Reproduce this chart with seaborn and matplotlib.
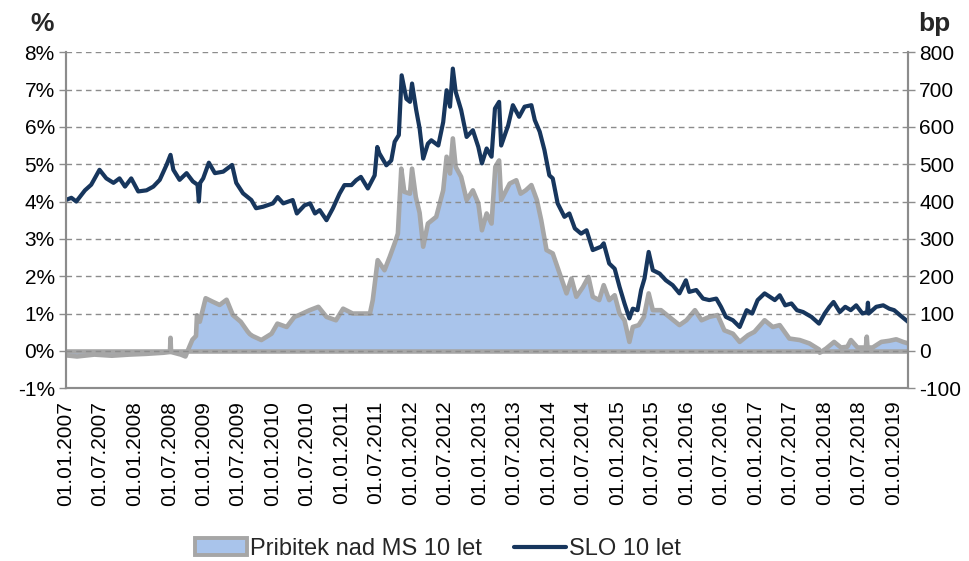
import pandas as pd
import matplotlib
matplotlib.use("Agg")
import matplotlib.pyplot as plt
import matplotlib.dates as mdates
from matplotlib.patches import Patch
from matplotlib.lines import Line2D
import seaborn as sns

# SLO 10-year yield (%)
yield_dates = [
    "2007-01-01", "2007-01-30", "2007-02-25", "2007-04-12", "2007-05-15", "2007-06-28",
    "2007-08-03", "2007-09-10", "2007-10-12", "2007-11-10", "2007-12-13", "2008-01-19",
    "2008-03-03", "2008-04-08", "2008-05-12", "2008-06-17", "2008-07-08", "2008-07-23",
    "2008-08-25", "2008-10-01", "2008-11-03", "2008-11-28", "2008-12-05", "2008-12-12",
    "2008-12-28", "2009-01-27", "2009-02-28", "2009-04-13", "2009-05-30", "2009-06-21",
    "2009-07-27", "2009-09-09", "2009-10-04", "2009-11-10", "2010-01-01", "2010-01-26",
    "2010-02-25", "2010-04-16", "2010-05-08", "2010-06-18", "2010-07-17", "2010-08-12",
    "2010-09-06", "2010-10-12", "2010-11-14", "2010-12-20", "2011-01-15", "2011-02-21",
    "2011-03-18", "2011-04-12", "2011-05-19", "2011-06-24", "2011-07-08", "2011-07-19",
    "2011-08-25", "2011-09-20", "2011-10-08", "2011-10-30", "2011-11-14", "2011-12-09",
    "2011-12-28", "2012-01-08", "2012-01-30", "2012-02-17", "2012-03-07", "2012-04-01",
    "2012-04-19", "2012-05-26", "2012-06-21", "2012-07-09", "2012-07-27", "2012-08-11",
    "2012-08-26", "2012-09-24", "2012-10-23", "2012-11-25", "2012-12-24", "2013-01-12",
    "2013-02-06", "2013-03-04", "2013-03-22", "2013-04-13", "2013-04-24", "2013-05-31",
    "2013-06-25", "2013-07-28", "2013-08-26", "2013-10-01", "2013-10-19", "2013-11-14",
    "2013-12-09", "2014-01-04", "2014-01-22", "2014-02-17", "2014-03-25", "2014-04-20",
    "2014-05-19", "2014-06-21", "2014-07-20", "2014-08-22", "2014-10-05", "2014-10-19",
    "2014-11-17", "2014-12-16", "2015-01-11", "2015-02-06", "2015-03-04", "2015-03-22",
    "2015-04-16", "2015-05-05", "2015-05-23", "2015-06-14", "2015-07-06", "2015-08-11",
    "2015-09-13", "2015-10-19", "2015-11-24", "2015-12-28", "2016-01-15", "2016-02-21",
    "2016-03-28", "2016-04-30", "2016-06-06", "2016-07-01", "2016-07-27", "2016-09-02",
    "2016-10-08", "2016-11-14", "2016-12-13", "2017-01-11", "2017-02-17", "2017-04-12",
    "2017-05-08", "2017-06-06", "2017-07-09", "2017-08-07", "2017-09-09", "2017-10-23",
    "2017-12-02", "2018-01-01", "2018-01-26", "2018-02-17", "2018-03-22", "2018-04-20",
    "2018-05-19", "2018-06-17", "2018-07-20", "2018-08-14", "2018-08-18", "2018-08-22",
    "2018-10-01", "2018-11-07", "2018-12-09", "2019-01-04", "2019-02-03", "2019-03-18",
]
yield_pct = [
    4.04, 4.10, 4.00, 4.30, 4.45, 4.85,
    4.62, 4.50, 4.62, 4.40, 4.62, 4.27,
    4.30, 4.40, 4.58, 4.98, 5.25, 4.85,
    4.58, 4.76, 4.54, 4.45, 4.00, 4.50,
    4.62, 5.04, 4.76, 4.80, 4.98, 4.50,
    4.22, 4.04, 3.82, 3.86, 3.95, 4.12,
    3.95, 4.04, 3.68, 3.90, 3.95, 3.68,
    3.77, 3.50, 3.81, 4.21, 4.44, 4.44,
    4.57, 4.66, 4.35, 4.70, 5.46, 5.29,
    4.97, 5.10, 5.60, 5.78, 7.38, 6.75,
    6.67, 7.16, 6.45, 5.96, 5.15, 5.55,
    5.64, 5.50, 6.13, 6.98, 6.54, 7.56,
    6.94, 6.45, 5.73, 5.91, 5.46, 5.02,
    5.42, 5.20, 6.49, 6.67, 5.50, 6.04,
    6.58, 6.27, 6.54, 6.58, 6.18, 5.87,
    5.38, 4.70, 4.62, 3.95, 3.59, 3.68,
    3.28, 3.14, 3.23, 2.70, 2.79, 2.88,
    2.34, 2.20, 1.71, 1.27, 0.87, 1.13,
    1.09, 1.63, 1.94, 2.65, 2.16, 2.07,
    1.89, 1.76, 1.54, 1.89, 1.58, 1.63,
    1.40, 1.36, 1.40, 1.18, 0.91, 0.82,
    0.64, 1.09, 1.00, 1.36, 1.54, 1.36,
    1.49, 1.22, 1.27, 1.09, 1.04, 0.91,
    0.73, 1.00, 1.18, 1.31, 1.04, 1.18,
    1.09, 1.22, 1.00, 1.04, 1.29, 1.00,
    1.18, 1.22, 1.13, 1.09, 0.96, 0.78,
]

# Spread over German Bund 10y (bp)
spread_dates = [
    "2007-01-01", "2007-03-01", "2007-06-01", "2007-09-01", "2007-12-01", "2008-03-01",
    "2008-06-01", "2008-07-05", "2008-07-08", "2008-07-11", "2008-09-01", "2008-09-25",
    "2008-10-15", "2008-11-01", "2008-11-20", "2008-11-25", "2008-12-10", "2009-01-10",
    "2009-02-15", "2009-03-25", "2009-05-01", "2009-06-03", "2009-07-15", "2009-08-20",
    "2009-09-01", "2009-09-15", "2009-11-01", "2009-12-25", "2010-01-25", "2010-03-15",
    "2010-04-25", "2010-05-20", "2010-07-15", "2010-08-30", "2010-10-12", "2010-12-01",
    "2011-01-08", "2011-02-28", "2011-04-20", "2011-05-30", "2011-06-14", "2011-07-01",
    "2011-07-10", "2011-08-15", "2011-09-12", "2011-10-08", "2011-10-25", "2011-11-12",
    "2011-11-28", "2011-12-28", "2012-01-08", "2012-01-28", "2012-02-17", "2012-03-07",
    "2012-04-01", "2012-05-15", "2012-06-21", "2012-07-09", "2012-07-27", "2012-08-11",
    "2012-08-26", "2012-09-24", "2012-10-23", "2012-11-25", "2012-12-24", "2013-01-12",
    "2013-02-06", "2013-03-04", "2013-03-24", "2013-04-13", "2013-04-24", "2013-06-08",
    "2013-07-13", "2013-08-05", "2013-09-01", "2013-10-01", "2013-10-30", "2013-11-22",
    "2013-12-20", "2014-01-22", "2014-02-28", "2014-04-05", "2014-05-01", "2014-05-27",
    "2014-07-01", "2014-07-30", "2014-08-22", "2014-09-25", "2014-10-19", "2014-11-17",
    "2014-12-16", "2015-01-11", "2015-02-06", "2015-03-04", "2015-03-22", "2015-04-22",
    "2015-05-20", "2015-06-14", "2015-07-06", "2015-08-18", "2015-10-01", "2015-11-24",
    "2015-12-31", "2016-02-14", "2016-03-20", "2016-04-30", "2016-06-13", "2016-07-19",
    "2016-09-02", "2016-10-08", "2016-11-21", "2016-12-25", "2017-02-17", "2017-04-01",
    "2017-05-08", "2017-06-28", "2017-08-22", "2017-10-12", "2017-12-02", "2017-12-06",
    "2018-01-08", "2018-02-20", "2018-03-28", "2018-05-01", "2018-05-20", "2018-06-24",
    "2018-08-07", "2018-08-12", "2018-08-16", "2018-09-12", "2018-10-28", "2018-12-09",
    "2019-01-15", "2019-02-20", "2019-03-18",
]
spread_bp = [
    -12, -15, -10, -13, -10, -8,
    -5, -3, 35, -3, -10, -15,
    10, 30, 40, 95, 78, 141,
    132, 123, 137, 96, 78, 52,
    45, 40, 29, 46, 73, 64,
    91, 96, 109, 118, 91, 82,
    113, 100, 100, 100, 136, 207,
    243, 216, 252, 288, 314, 488,
    426, 421, 488, 412, 370, 279,
    341, 359, 430, 520, 475, 569,
    493, 466, 404, 430, 395, 323,
    368, 341, 493, 510, 404, 448,
    457, 421, 430, 444, 404, 350,
    270, 261, 207, 154, 194, 145,
    171, 198, 145, 136, 176, 136,
    149, 100, 82, 24, 64, 69,
    91, 154, 109, 109, 91, 69,
    82, 109, 82, 91, 96, 55,
    46, 24, 42, 51, 82, 64,
    69, 33, 29, 20, 4, -5,
    6, 24, 9, 11, 29, 9,
    9, 38, 9, 9, 24, 27,
    31, 24, 20,
]

x_start, x_end = "2007-01-01", "2019-03-18"
label_spread = "Pribitek nad MS 10 let"
label_yield = "SLO 10 let"

NAVY = "#17365D"
FILL = "#A9C4EB"
EDGE = "#A6A6A6"
AXIS = "#8C8C8C"

sns.set_style("white")
plt.rcParams["font.family"] = ["Liberation Sans", "DejaVu Sans"]
plt.rcParams["axes.unicode_minus"] = False

df_y = pd.DataFrame({"date": pd.to_datetime(yield_dates), "val": yield_pct})
df_s = pd.DataFrame({"date": pd.to_datetime(spread_dates), "val": spread_bp})

fig = plt.figure(figsize=(9.69, 5.61), dpi=100)
ax = fig.add_axes([0.068, 0.308, 0.869, 0.599])
ax2 = ax.twinx()

# spread area on the secondary axis (drawn behind)
ax2.fill_between(df_s["date"], 0, df_s["val"], color=FILL, lw=0)
sns.lineplot(data=df_s, x="date", y="val", ax=ax2, color=EDGE, lw=3.3)
ax2.axhline(0, color=EDGE, lw=3.3)
ax2.set_ylim(-100, 800)
ax2.set_yticks(range(-100, 801, 100))

# yield line on primary axis, kept on top
ax.set_zorder(ax2.get_zorder() + 1)
ax.patch.set_visible(False)
sns.lineplot(data=df_y, x="date", y="val", ax=ax, color=NAVY, lw=3.0)
ax.set_ylim(-1, 8)
ax.set_yticks(range(-1, 9))
ax.set_yticklabels([f"{v}%" for v in range(-1, 9)])
ax.yaxis.grid(True, ls=(0, (4, 3)), color="#8C8C8C", lw=1)

ax.set_xlim(pd.Timestamp(x_start), pd.Timestamp(x_end))
ax.xaxis.set_major_locator(mdates.MonthLocator(bymonth=[1, 7]))
ax.xaxis.set_major_formatter(mdates.DateFormatter("%d.%m.%Y"))
plt.setp(ax.get_xticklabels(), rotation=90)

for a in (ax, ax2):
    a.set_xlabel("")
    a.set_ylabel("")
    for side in ("left", "right", "bottom"):
        a.spines[side].set_color(AXIS)
        a.spines[side].set_linewidth(1.5)
    a.spines["top"].set_visible(False)
    a.tick_params(axis="both", labelsize=15, colors="black", length=5, width=1,
                  direction="out")
    a.tick_params(axis="both", color=AXIS)
ax.tick_params(axis="x", pad=4)
ax.tick_params(axis="y", left=True, pad=3)
ax2.tick_params(axis="y", right=True, pad=3)

fig.text(0.031, 0.958, "%", fontsize=19, fontweight="bold", ha="left", va="center")
fig.text(0.964, 0.958, "bp", fontsize=19, fontweight="bold", ha="center", va="center")

handles = [
    Patch(facecolor=FILL, edgecolor=EDGE, lw=2.8),
    Line2D([0], [0], color=NAVY, lw=3.0),
]
fig.legend(handles, [label_spread, label_yield], loc="lower center",
           bbox_to_anchor=(0.452, -0.036), ncol=2, frameon=False, fontsize=17,
           columnspacing=1.35, handlelength=2.2, handletextpad=0.15)

fig.savefig("out.png", dpi=100)
